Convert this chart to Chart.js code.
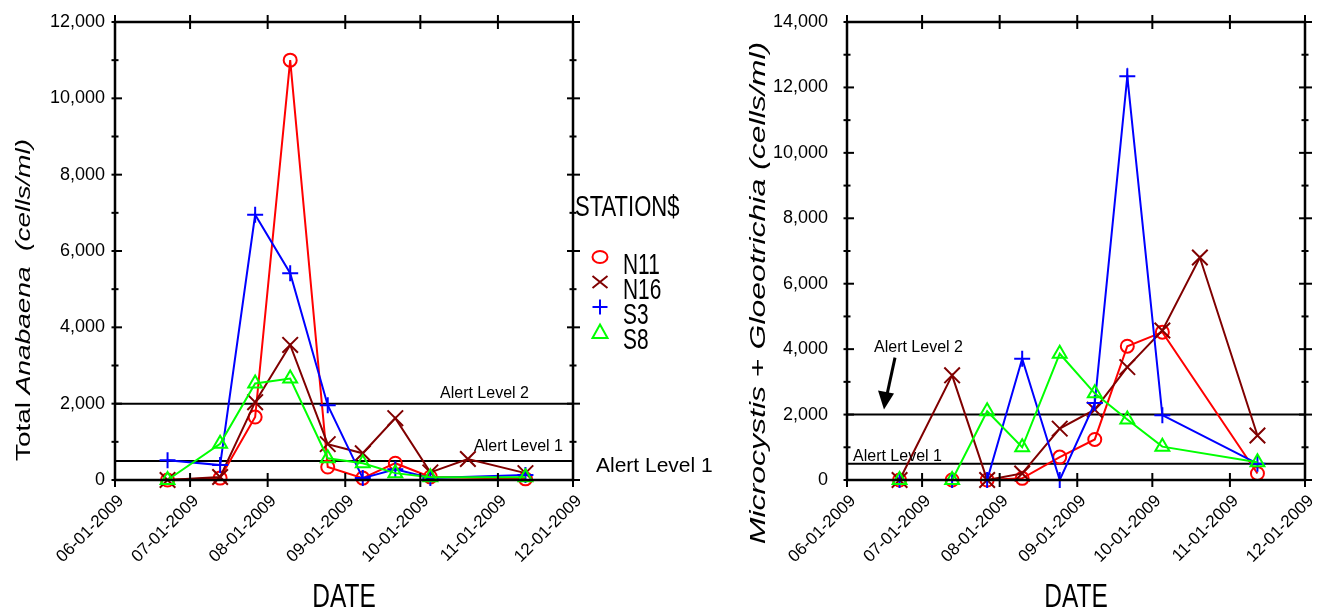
<!DOCTYPE html>
<html lang="en">
<head>
  <meta charset="UTF-8" />
  <title>Anabaena / Microcystis + Gloeotrichia by station, 2009</title>
  <script src="https://cdn.jsdelivr.net/npm/chart.js"></script>
  <style>
    body { margin: 0; background: #fff; }
    .wrap { position: relative; width: 1327px; height: 612px; }
    canvas { position: absolute; top: 0; }
    #leftChart { left: 0; }
    #rightChart { left: 735px; }
  </style>
</head>
<body>
  <div class="wrap">
    <canvas id="leftChart" width="735" height="612"></canvas>
    <canvas id="rightChart" width="592" height="612"></canvas>
  </div>

  <script>
    // sampling dates (shared by both panels)
    const sampleDates = ['2009-06-22', '2009-07-13', '2009-07-27', '2009-08-10', '2009-08-25',
                         '2009-09-08', '2009-09-21', '2009-10-05', '2009-10-20', '2009-11-12'];
    const monthTicks = ['2009-06-01', '2009-07-01', '2009-08-01', '2009-09-01', '2009-10-01', '2009-11-01', '2009-12-01'];
    const monthLabels = ['06-01-2009', '07-01-2009', '08-01-2009', '09-01-2009', '10-01-2009', '11-01-2009', '12-01-2009'];
    const stations = ['N11', 'N16', 'S3', 'S8'];

    // Total Anabaena (cells/ml)
    const anaN11 = [0, 50, 1650, 11000, 340, 50, 440, 80, null, 30];
    const anaN16 = [0, 80, 2040, 3540, 940, 700, 1620, 200, 550, 180];
    const anaS3  = [520, 390, 6950, 5420, 1960, 50, 280, 50, null, 130];
    const anaS8  = [0, 950, 2530, 2660, 570, 440, 180, 70, null, 70];

    // Microcystis + Gloeotrichia (cells/ml)
    const micN11 = [0, 0, 0, 50, 700, 1240, 4090, 4520, null, 200];
    const micN16 = [0, 3200, 0, 200, 1570, 2150, 3450, 4570, 6800, 1360];
    const micS3  = [0, 0, 0, 3710, 0, 2350, 12340, 1980, null, 500];
    const micS8  = [0, 0, 2100, 1000, 3860, 2650, 1850, 1020, null, 540];

    const alertLevels = [500, 2000];

    const FONT = "'Liberation Sans', Arial, sans-serif";
    Chart.defaults.font.family = FONT;
    Chart.defaults.color = '#000';

    const styles = [
      { color: '#ff0000', point: 'circle',   r: 6.5 },
      { color: '#800000', point: 'crossRot', r: 11 },
      { color: '#0000ff', point: 'cross',    r: 8 },
      { color: '#00ff00', point: 'triangle', r: 8 }
    ];

    const day0 = Date.UTC(2009, 5, 1);
    function dayOf(s) {
      const p = s.split('-').map(Number);
      return (Date.UTC(p[0], p[1] - 1, p[2]) - day0) / 86400000;
    }
    const fmt = v => String(v).replace(/\B(?=(\d{3})+(?!\d))/g, ',');

    function makeSets(series) {
      return series.map((vals, i) => ({
        label: stations[i],
        data: sampleDates.map((d, j) => ({ x: dayOf(d), y: vals[j] })).filter(p => p.y !== null),
        borderColor: styles[i].color,
        backgroundColor: 'transparent',
        borderWidth: 2,
        pointStyle: styles[i].point,
        pointRadius: styles[i].r,
        pointBorderWidth: 2,
        pointBorderColor: styles[i].color,
        pointBackgroundColor: 'transparent',
        tension: 0,
        clip: false,
        order: 3 - i
      }));
    }

    function line(ctx, x1, y1, x2, y2) {
      ctx.beginPath(); ctx.moveTo(x1, y1); ctx.lineTo(x2, y2); ctx.stroke();
    }
    function squashText(ctx, text, x, y, size, sx, align) {
      ctx.save();
      ctx.translate(x, y);
      ctx.scale(sx, 1);
      ctx.font = size + 'px ' + FONT;
      ctx.textAlign = align || 'left';
      ctx.textBaseline = 'alphabetic';
      ctx.fillStyle = '#000';
      ctx.fillText(text, 0, 0);
      ctx.restore();
    }
    function verticalTitle(ctx, parts, cx, cy, size, sx) {
      ctx.save();
      ctx.translate(cx, cy);
      ctx.scale(sx, 1);
      ctx.rotate(-Math.PI / 2);
      ctx.fillStyle = '#000';
      ctx.textBaseline = 'middle';
      let total = 0;
      parts.forEach(p => {
        ctx.font = (p.it ? 'italic ' : '') + size + 'px ' + FONT;
        p.w = ctx.measureText(p.t).width;
        total += p.w;
      });
      let x = -total / 2;
      parts.forEach(p => {
        ctx.font = (p.it ? 'italic ' : '') + size + 'px ' + FONT;
        ctx.fillText(p.t, x, 0);
        x += p.w;
      });
      ctx.restore();
    }
    function marker(ctx, style, x, y, r) {
      ctx.save();
      ctx.strokeStyle = style.color;
      ctx.lineWidth = 2;
      ctx.beginPath();
      if (style.point === 'circle') {
        ctx.ellipse(x, y, r, r * 0.8, 0, 0, Math.PI * 2);
      } else if (style.point === 'crossRot') {
        ctx.moveTo(x - r, y - r * 0.8); ctx.lineTo(x + r, y + r * 0.8);
        ctx.moveTo(x + r, y - r * 0.8); ctx.lineTo(x - r, y + r * 0.8);
      } else if (style.point === 'cross') {
        ctx.moveTo(x - r, y); ctx.lineTo(x + r, y);
        ctx.moveTo(x, y - r); ctx.lineTo(x, y + r);
      } else {
        ctx.moveTo(x, y - r); ctx.lineTo(x + r, y + r * 0.8); ctx.lineTo(x - r, y + r * 0.8); ctx.closePath();
      }
      ctx.stroke();
      ctx.restore();
    }

    // per-canvas extra drawing (titles, legend, alert labels)
    const extras = {};

    // alert lines under the data, framed axes with ticks on all four sides on top
    const framePlugin = {
      id: 'frame',
      beforeDatasetsDraw(chart) {
        const { ctx, chartArea: a, scales: { y } } = chart;
        ctx.save();
        ctx.strokeStyle = '#000';
        ctx.lineWidth = 2;
        alertLevels.forEach(v => {
          const py = y.getPixelForValue(v);
          line(ctx, a.left, py, a.right, py);
        });
        ctx.restore();
      },
      afterDraw(chart) {
        const { ctx, chartArea: a, scales: { x, y } } = chart;
        ctx.save();
        ctx.strokeStyle = '#000';
        ctx.lineWidth = 2.5;
        ctx.strokeRect(a.left, a.top, a.right - a.left, a.bottom - a.top);
        ctx.lineWidth = 2;
        for (let v = y.min; v <= y.max; v += 1000) {
          const py = y.getPixelForValue(v);
          const major = v % 2000 === 0;
          line(ctx, a.left - 3.5, py, a.left + (major ? 7 : 3.5), py);
          line(ctx, a.right - (major ? 6 : 3.5), py, a.right + (major ? 7 : 3.5), py);
        }
        x.ticks.forEach(t => {
          const px = x.getPixelForValue(t.value);
          line(ctx, px, a.top - 7, px, a.top + 7);
          line(ctx, px, a.bottom - 7, px, a.bottom + 7);
        });
        ctx.restore();
        squashText(ctx, 'DATE', (a.left + a.right) / 2, 607, 34, 0.72, 'center');
        const fn = extras[chart.canvas.id];
        if (fn) fn(chart);
      }
    };

    function makeChart(id, series, yMax, yPad, leftW, rightPad) {
      return new Chart(document.getElementById(id), {
        type: 'line',
        data: { datasets: makeSets(series) },
        plugins: [framePlugin],
        options: {
          responsive: false,
          animation: false,
          events: [],
          layout: { padding: { left: 0, top: 22, right: rightPad, bottom: 0 } },
          plugins: { legend: { display: false }, tooltip: { enabled: false } },
          scales: {
            x: {
              type: 'linear',
              min: dayOf(monthTicks[0]),
              max: dayOf(monthTicks[monthTicks.length - 1]),
              afterBuildTicks: s => { s.ticks = monthTicks.map(d => ({ value: dayOf(d) })); },
              afterFit: s => { s.height = 612 - 480; s.paddingLeft = 0; s.paddingRight = 0; },
              grid: { display: false, drawTicks: false },
              border: { display: false },
              ticks: {
                autoSkip: false,
                minRotation: 45,
                maxRotation: 45,
                padding: 11,
                labelOffset: 6,
                font: { size: 17 },
                callback: (v, i) => monthLabels[i]
              }
            },
            y: {
              min: 0,
              max: yMax,
              afterFit: s => { s.width = leftW; s.paddingTop = 0; s.paddingBottom = 0; },
              grid: { display: false, drawTicks: false },
              border: { display: false },
              ticks: { stepSize: 2000, padding: yPad, font: { size: 18 }, callback: v => fmt(v) }
            }
          }
        }
      });
    }

    extras.leftChart = chart => {
      const { ctx, scales: { y } } = chart;
      verticalTitle(ctx, [{ t: 'Total ', it: false }, { t: 'Anabaena', it: true }, { t: '  (cells/ml)', it: true }],
        24, 300, 28, 0.75);
      ctx.save();
      ctx.fillStyle = '#000';
      ctx.font = '16px ' + FONT;
      ctx.fillText('Alert Level 2', 440, y.getPixelForValue(alertLevels[1]) - 6);
      ctx.fillText('Alert Level 1', 474, y.getPixelForValue(alertLevels[0]) - 10);
      ctx.font = '21px ' + FONT;
      ctx.fillText('Alert Level 1', 596, 472);
      ctx.restore();
      // legend
      squashText(ctx, 'STATION$', 575, 216, 29, 0.76, 'left');
      stations.forEach((s, i) => {
        const base = 274 + i * 25;
        marker(ctx, styles[i], 600, base - 17, 7.5);
        squashText(ctx, s, 623, base, 29, 0.72, 'left');
      });
    };

    extras.rightChart = chart => {
      const { ctx, scales: { y } } = chart;
      verticalTitle(ctx, [{ t: 'Microcystis', it: true }, { t: ' + ', it: false }, { t: 'Gloeotrichia', it: true }, { t: ' (cells/ml)', it: true }],
        24, 293, 32, 0.7);
      ctx.save();
      ctx.fillStyle = '#000';
      ctx.font = '16px ' + FONT;
      const y2 = y.getPixelForValue(alertLevels[1]);
      ctx.fillText('Alert Level 2', 139, y2 - 63);
      ctx.fillText('Alert Level 1', 118, y.getPixelForValue(alertLevels[0]) - 3);
      // arrow pointing at the level 2 line
      ctx.strokeStyle = '#000';
      ctx.lineWidth = 3;
      line(ctx, 160, y2 - 57, 152, y2 - 20);
      ctx.beginPath();
      ctx.moveTo(149, y2 - 5);
      ctx.lineTo(143, y2 - 24);
      ctx.lineTo(159, y2 - 21);
      ctx.closePath();
      ctx.fill();
      ctx.restore();
    };

    makeChart('leftChart', [anaN11, anaN16, anaS3, anaS8], 12000, 10, 115, 735 - 573);
    makeChart('rightChart', [micN11, micN16, micS3, micS8], 14000, 19, 112, 592 - 570);
  </script>
</body>
</html>
